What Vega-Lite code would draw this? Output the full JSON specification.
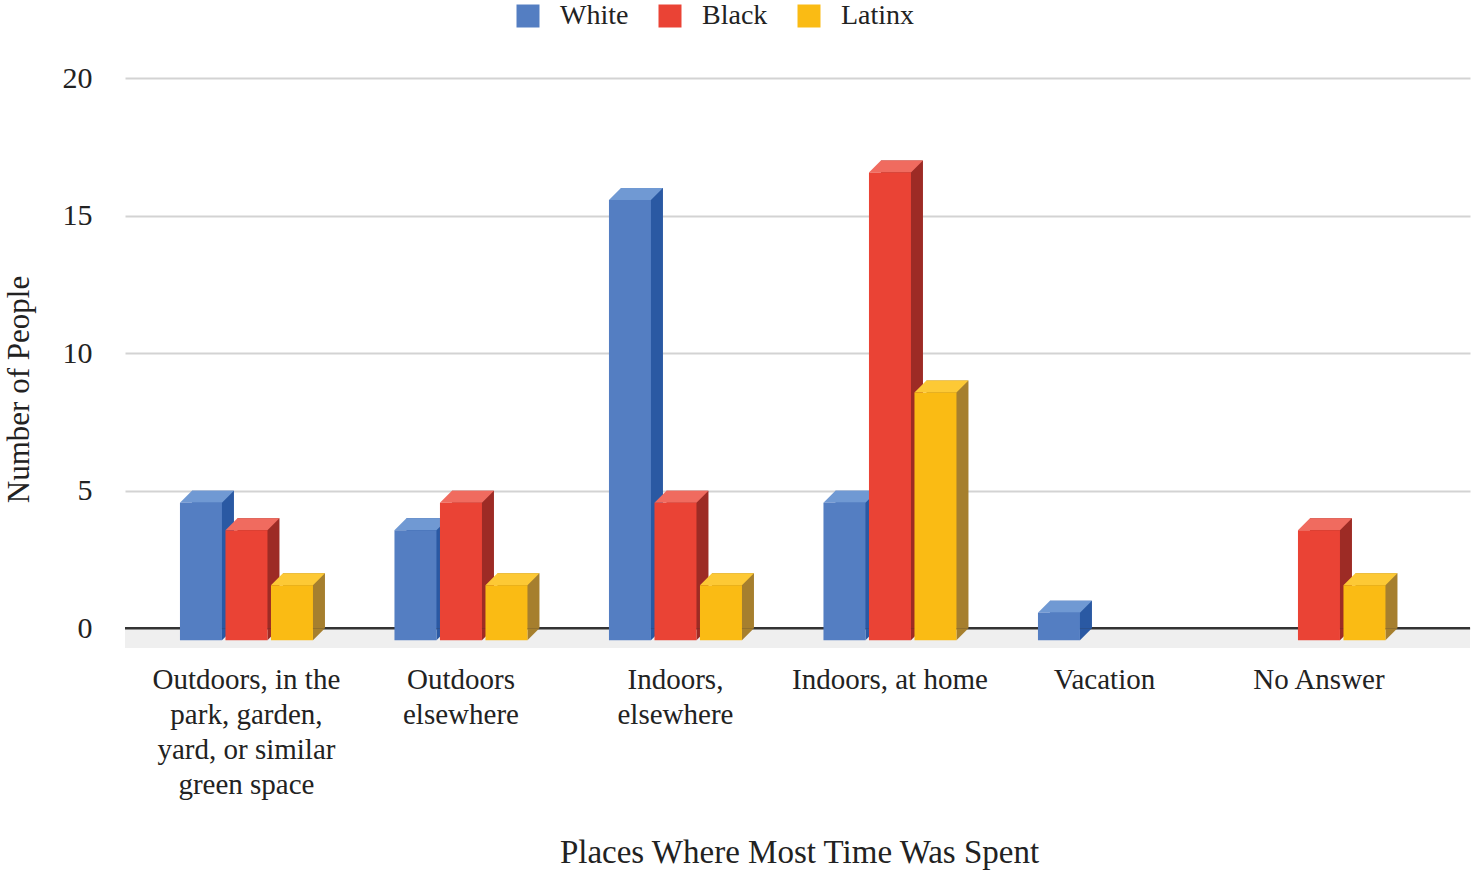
{
  "$schema": "https://vega.github.io/schema/vega-lite/v6.json",
  "autosize": {"type": "none"},
  "padding": {"left": 125, "top": 78, "right": 1, "bottom": 222},
  "width": 1345,
  "height": 570,
  "background": "white",
  "config": {"font": "Liberation Serif", "view": {"stroke": null}},
  "data": {"values": [
    {"category": "Outdoors, in the park, garden, yard, or similar green space", "race": "White", "value": 5},
    {"category": "Outdoors, in the park, garden, yard, or similar green space", "race": "Black", "value": 4},
    {"category": "Outdoors, in the park, garden, yard, or similar green space", "race": "Latinx", "value": 2},
    {"category": "Outdoors elsewhere", "race": "White", "value": 4},
    {"category": "Outdoors elsewhere", "race": "Black", "value": 5},
    {"category": "Outdoors elsewhere", "race": "Latinx", "value": 2},
    {"category": "Indoors, elsewhere", "race": "White", "value": 16},
    {"category": "Indoors, elsewhere", "race": "Black", "value": 5},
    {"category": "Indoors, elsewhere", "race": "Latinx", "value": 2},
    {"category": "Indoors, at home", "race": "White", "value": 5},
    {"category": "Indoors, at home", "race": "Black", "value": 17},
    {"category": "Indoors, at home", "race": "Latinx", "value": 9},
    {"category": "Vacation", "race": "White", "value": 1},
    {"category": "No Answer", "race": "Black", "value": 4},
    {"category": "No Answer", "race": "Latinx", "value": 2}
  ]},
  "resolve": {"scale": {"color": "independent", "xOffset": "independent"}},
  "layer": [
    {
      "data": {"values": [{}]},
      "mark": {"type": "rect", "color": "#efefef"},
      "encoding": {
        "y": {"datum": 0, "type": "quantitative", "scale": {"domain": [-0.72, 20], "nice": false, "zero": false}},
        "y2": {"datum": -0.72}
      }
    },
    {
      "data": {"values": [{}]},
      "mark": {"type": "rule", "color": "#333333", "strokeWidth": 2.5},
      "encoding": {"y": {"datum": 0, "type": "quantitative"}}
    },
    {
      "mark": {"type": "bar", "opacity": 1},
      "encoding": {
        "x": {"field": "category", "type": "nominal", "sort": null},
        "xOffset": {"field": "race", "type": "nominal", "scale": {"type": "band", "domain": ["White", "Black", "Latinx"], "paddingInner": 0.077, "paddingOuter": 0, "range": [12, 145]}},
        "y": {"field": "value", "type": "quantitative", "stack": null},
        "y2": {"datum": 0},
        "color": {"field": "race", "type": "nominal", "legend": null, "scale": {"domain": ["White", "Black", "Latinx"], "range": ["#2a59a3", "#9d2b25", "#a67f2e"]}}
      }
    },
    {
      "mark": {"type": "point", "shape": "M21,0L21,12L33,0Z", "size": 4, "filled": true, "opacity": 1, "strokeWidth": 0},
      "encoding": {
        "x": {"field": "category", "type": "nominal", "sort": null},
        "xOffset": {"field": "race", "type": "nominal", "scale": {"type": "band", "domain": ["White", "Black", "Latinx"], "paddingInner": 0.077, "paddingOuter": 0, "range": [0, 133]}},
        "y": {"datum": 0, "type": "quantitative"},
        "color": {"field": "race", "type": "nominal", "legend": null, "scale": {"domain": ["White", "Black", "Latinx"], "range": ["#2a59a3", "#9d2b25", "#a67f2e"]}}
      }
    },
    {
      "mark": {"type": "point", "shape": "M-21,12L21,12L33,0L-9,0Z", "size": 4, "filled": true, "opacity": 1, "strokeWidth": 0},
      "encoding": {
        "x": {"field": "category", "type": "nominal", "sort": null},
        "xOffset": {"field": "race", "type": "nominal", "scale": {"type": "band", "domain": ["White", "Black", "Latinx"], "paddingInner": 0.077, "paddingOuter": 0, "range": [0, 133]}},
        "y": {"field": "value", "type": "quantitative"},
        "color": {"field": "race", "type": "nominal", "legend": null, "scale": {"domain": ["White", "Black", "Latinx"], "range": ["#7099d3", "#f06b5f", "#fdc935"]}}
      }
    },
    {
      "mark": {"type": "bar", "yOffset": 12, "y2Offset": 12, "opacity": 1},
      "encoding": {
        "x": {
          "field": "category", "type": "nominal", "sort": null,
          "scale": {"type": "band", "paddingInner": 0.38, "paddingOuter": 0.3252, "align": 0.394, "round": false},
          "axis": {
            "domain": false, "ticks": false, "tickSize": 0, "grid": false,
            "labelAngle": 0, "labelAlign": "center", "labelBaseline": "alphabetic",
            "labelFont": "Liberation Serif", "labelFontSize": 29, "labelLineHeight": 35, "labelColor": "#222222",
            "labelPadding": 40, "labelLimit": 0,
            "labelExpr": "datum.value == 'Outdoors, in the park, garden, yard, or similar green space' ? ['Outdoors, in the', 'park, garden,', 'yard, or similar', 'green space'] : datum.value == 'Outdoors elsewhere' ? ['Outdoors', 'elsewhere'] : datum.value == 'Indoors, elsewhere' ? ['Indoors,', 'elsewhere'] : datum.label",
            "title": "Places Where Most Time Was Spent",
            "titleFont": "Liberation Serif", "titleFontSize": 33, "titleFontWeight": "normal", "titleColor": "#222222",
            "titleX": 674, "titleY": 214, "titleBaseline": "alphabetic", "titleAlign": "center"
          }
        },
        "xOffset": {"field": "race", "type": "nominal", "scale": {"type": "band", "domain": ["White", "Black", "Latinx"], "paddingInner": 0.077, "paddingOuter": 0, "range": [0, 133]}},
        "y": {
          "field": "value", "type": "quantitative", "stack": null,
          "axis": {
            "values": [0, 5, 10, 15, 20], "domain": false, "ticks": false, "tickSize": 0,
            "grid": true, "gridColor": "#d3d3d3", "gridWidth": 2,
            "labelFont": "Liberation Serif", "labelFontSize": 30, "labelColor": "#222222", "labelPadding": 33,
            "title": "Number of People",
            "titleFont": "Liberation Serif", "titleFontSize": 31, "titleFontWeight": "normal", "titleColor": "#222222",
            "titleX": -97, "titleY": 311, "titleAngle": -90, "titleBaseline": "alphabetic", "titleAlign": "center"
          }
        },
        "y2": {"datum": 0},
        "color": {
          "field": "race", "type": "nominal",
          "scale": {"domain": ["White", "Black", "Latinx"], "range": ["#547ec2", "#ea4335", "#fabb14"]},
          "legend": {
            "title": null, "orient": "none", "direction": "horizontal", "legendX": 389, "legendY": -76,
            "symbolType": "square", "symbolSize": 529, "symbolStrokeWidth": 0, "symbolOpacity": 1,
            "labelFont": "Liberation Serif", "labelFontSize": 28, "labelColor": "#222222",
            "labelOffset": 18, "columnPadding": 27, "padding": 0
          }
        }
      }
    }
  ]
}
